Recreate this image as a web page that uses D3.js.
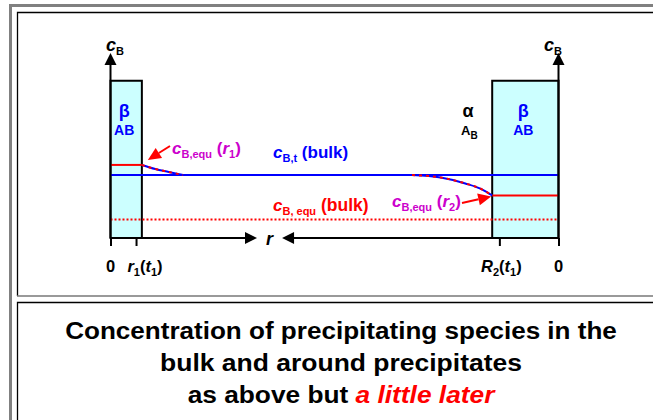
<!DOCTYPE html>
<html>
<head>
<meta charset="utf-8">
<script src="https://cdn.jsdelivr.net/npm/d3@7"></script>
<style>
  body { margin: 0; background: #fff; }
  svg { display: block; font-family: "Liberation Sans", Arial, sans-serif; font-weight: bold; }
</style>
</head>
<body>
<svg id="chart" width="653" height="420"></svg>
<script>
// schematic units: r goes 0..100 across the frame, c goes 0..10 up the axis
const rDomain = [0, 100];
const cDomain = [0, 10];

const precipitates = [
  { name: 'left', r0: 0, r1: 7.0, cTop: 8.5 },
  { name: 'right', r0: 85.2, r1: 100, cTop: 8.5 }
];

const cBulk = 3.4;      // c_B,t (bulk)
const cEquBulk = 1.0;   // c_B,equ (bulk)
const cEquR1 = 3.95;    // c_B,equ (r1)
const cEquR2 = 2.3;     // c_B,equ (r2)

const profileLeft = [[7.0, 3.95], [10, 3.73], [13, 3.57], [16.2, 3.4]];
const profileRight = [[67.3, 3.4], [73.7, 3.27], [79.2, 2.95], [83, 2.62], [85.2, 2.3]];

const tickValues = [0, 5.7, 86.8, 100];
const rArrowTips = [32.7, 38.3];

const titleLines = [
  [{ t: 'Concentration of precipitating species in the' }],
  [{ t: 'bulk and around precipitates' }],
  [{ t: 'as above but ' }, { t: 'a little later', color: '#ff0000', italic: true }]
];
const titleWidths = [552, 362, 307];

const svg = d3.select('#chart');

const x = d3.scaleLinear().domain(rDomain).range([110.5, 558.5]);
const y = d3.scaleLinear().domain(cDomain).range([238, 53]);

// frames
svg.append('rect').attr('x', 9).attr('y', 4).attr('width', 660).attr('height', 3).attr('fill', '#808080');
svg.append('rect').attr('x', 9).attr('y', 4).attr('width', 3).attr('height', 420).attr('fill', '#808080');
svg.append('path').attr('d', 'M660,12.5H17.5V296').attr('fill', 'none').attr('stroke', '#000').attr('stroke-width', 1.3);
svg.append('line').attr('x1', 17).attr('x2', 660).attr('y1', 296).attr('y2', 296).attr('stroke', '#777').attr('stroke-width', 1.3);
svg.append('path').attr('d', 'M660,302.5H17.5V420').attr('fill', 'none').attr('stroke', '#000').attr('stroke-width', 1.3);

const g = svg.append('g');

// precipitate boxes
g.selectAll('rect.box')
  .data(precipitates)
  .enter().append('rect')
  .attr('class', 'box')
  .attr('x', d => x(d.r0))
  .attr('y', d => y(d.cTop))
  .attr('width', d => x(d.r1) - x(d.r0))
  .attr('height', d => y(0) - y(d.cTop))
  .attr('fill', '#ccffff')
  .attr('stroke', '#000')
  .attr('stroke-width', 2);

// equilibrium concentration inside each box
g.append('line')
  .attr('x1', x(0)).attr('x2', x(precipitates[0].r1))
  .attr('y1', y(cEquR1)).attr('y2', y(cEquR1))
  .attr('stroke', '#ff0000').attr('stroke-width', 2);
g.append('line')
  .attr('x1', x(precipitates[1].r0)).attr('x2', x(100))
  .attr('y1', y(cEquR2)).attr('y2', y(cEquR2))
  .attr('stroke', '#ff0000').attr('stroke-width', 2);

// bulk levels
g.append('line')
  .attr('x1', x(0)).attr('x2', x(100))
  .attr('y1', y(cBulk)).attr('y2', y(cBulk))
  .attr('stroke', '#0000ff').attr('stroke-width', 2);
g.append('line')
  .attr('x1', x(0)).attr('x2', x(100))
  .attr('y1', y(cEquBulk)).attr('y2', y(cEquBulk))
  .attr('stroke', '#ff0000').attr('stroke-width', 2)
  .attr('stroke-dasharray', '2,2');

// concentration profiles near the interfaces
const line = d3.line().x(d => x(d[0])).y(d => y(d[1])).curve(d3.curveMonotoneX);
[profileLeft, profileRight].forEach(p => {
  g.append('path').attr('d', line(p)).attr('fill', 'none')
    .attr('stroke', '#0000ff').attr('stroke-width', 2);
  g.append('path').attr('d', line(p)).attr('fill', 'none')
    .attr('stroke', '#ff0000').attr('stroke-width', 2).attr('stroke-dasharray', '3,4');
});

// vertical axes with arrows
[0, 100].forEach(r => {
  g.append('line').attr('x1', x(r)).attr('x2', x(r)).attr('y1', y(0)).attr('y2', y(9.4))
    .attr('stroke', '#000').attr('stroke-width', 2);
  g.append('path')
    .attr('d', `M${x(r)},${y(10)}L${x(r) - 6},${y(9.35)}L${x(r) + 6},${y(9.35)}Z`)
    .attr('fill', '#000');
});

// r axis: two segments with inward arrows
g.append('line').attr('x1', x(0)).attr('x2', x(rArrowTips[0]) - 8).attr('y1', y(0)).attr('y2', y(0))
  .attr('stroke', '#000').attr('stroke-width', 2);
g.append('line').attr('x1', x(rArrowTips[1]) + 8).attr('x2', x(100)).attr('y1', y(0)).attr('y2', y(0))
  .attr('stroke', '#000').attr('stroke-width', 2);
g.append('path')
  .attr('d', `M${x(rArrowTips[0])},${y(0)}L${x(rArrowTips[0]) - 12},${y(0) - 6}L${x(rArrowTips[0]) - 12},${y(0) + 6}Z`)
  .attr('fill', '#000');
g.append('path')
  .attr('d', `M${x(rArrowTips[1])},${y(0)}L${x(rArrowTips[1]) + 12},${y(0) - 6}L${x(rArrowTips[1]) + 12},${y(0) + 6}Z`)
  .attr('fill', '#000');

const axis = g.append('g')
  .attr('transform', 'translate(0,' + y(0) + ')')
  .call(d3.axisBottom(x).tickValues(tickValues).tickSize(8).tickFormat(''));
axis.select('.domain').remove();
axis.selectAll('line').attr('stroke', '#000').attr('stroke-width', 2);

// rich text helper: segments with optional sub, italic, size, color
function rich(px, py, segs, opts) {
  opts = opts || {};
  const t = g.append('text').attr('x', px).attr('y', py)
    .attr('font-size', opts.size || 15)
    .attr('fill', opts.color || '#000')
    .attr('text-anchor', opts.anchor || 'start');
  let shifted = 0;
  segs.forEach(s => {
    const ts = t.append('tspan').text(s.t);
    const want = s.sub ? 4 : 0;
    if (want !== shifted) { ts.attr('dy', want - shifted); shifted = want; }
    if (s.sub) ts.attr('font-size', s.size || (opts.size || 15) * 0.68);
    else if (s.size) ts.attr('font-size', s.size);
    if (s.italic) ts.attr('font-style', 'italic');
    if (s.color) ts.attr('fill', s.color);
  });
  return t;
}

// axis titles
rich(106, 51, [{ t: 'c', italic: true }, { t: 'B', sub: true, size: 11 }], { size: 18 });
rich(544, 51, [{ t: 'c', italic: true }, { t: 'B', sub: true, size: 11 }], { size: 18 });
rich(x(35.5), 245, [{ t: 'r', italic: true }], { size: 18, anchor: 'middle' });

// tick labels
rich(x(0), 272, [{ t: '0' }], { size: 16.5, anchor: 'middle' });
rich(x(100), 272, [{ t: '0' }], { size: 16.5, anchor: 'middle' });
rich(x(5.7) + 9, 272, [{ t: 'r', italic: true }, { t: '1', sub: true, size: 11 }, { t: '(' }, { t: 't', italic: true }, { t: '1', sub: true, size: 11 }, { t: ')' }], { size: 16.5, anchor: 'middle' });
rich(x(86.8) + 2, 272, [{ t: 'R', italic: true }, { t: '2', sub: true, size: 11 }, { t: '(' }, { t: 't', italic: true }, { t: '1', sub: true, size: 11 }, { t: ')' }], { size: 16.5, anchor: 'middle' });

// phase labels
const boxMid = d => (x(d.r0) + x(d.r1)) / 2;
precipitates.forEach(d => {
  rich(boxMid(d) - 2, 117, [{ t: 'β' }], { size: 18, color: '#0000ff', anchor: 'middle' });
  rich(boxMid(d) - 2, 135, [{ t: 'AB' }], { size: 14, color: '#0000ff', anchor: 'middle' });
});
rich(468, 117, [{ t: 'α' }], { size: 18, anchor: 'middle' });
rich(461, 135, [{ t: 'A' }, { t: 'B', sub: true, size: 10 }], { size: 13 });

// curve labels
rich(273, 158, [{ t: 'c', italic: true, size: 17 }, { t: 'B,t', sub: true, size: 11 }, { t: ' (bulk)' }], { size: 17, color: '#0000ff' });
rich(273, 211, [{ t: 'c', italic: true, size: 17 }, { t: 'B, equ', sub: true, size: 11 }, { t: ' (bulk)' }], { size: 17.5, color: '#ff0000' });
rich(172, 154, [{ t: 'c', italic: true }, { t: 'B,equ', sub: true, size: 11 }, { t: ' (' }, { t: 'r', italic: true }, { t: '1', sub: true, size: 11 }, { t: ')' }], { size: 17, color: '#cc00cc' });
rich(392, 207, [{ t: 'c', italic: true }, { t: 'B,equ', sub: true, size: 11 }, { t: ' (' }, { t: 'r', italic: true }, { t: '2', sub: true, size: 11 }, { t: ')' }], { size: 17, color: '#cc00cc' });

// red pointer arrows to the interface concentrations
function pointer(x0, y0, x1, y1) {
  const a = Math.atan2(y1 - y0, x1 - x0), L = 13, W = 6;
  const bx = x1 - L * Math.cos(a), by = y1 - L * Math.sin(a);
  g.append('line').attr('x1', x0).attr('y1', y0).attr('x2', bx).attr('y2', by)
    .attr('stroke', '#ff0000').attr('stroke-width', 2);
  g.append('path')
    .attr('d', `M${x1},${y1}L${bx + W * Math.sin(a)},${by - W * Math.cos(a)}L${bx - W * Math.sin(a)},${by + W * Math.cos(a)}Z`)
    .attr('fill', '#ff0000');
}
pointer(170, 146, x(precipitates[0].r1) + 6, y(cEquR1) - 5);
pointer(462, 203, x(precipitates[1].r0) - 1, y(cEquR2) + 1);

// caption, stretched to the widths seen in the picture
titleLines.forEach((segs, i) => {
  const ty = 339 + i * 32;
  const t = rich(0, 0, segs, { size: 24, anchor: 'middle' });
  const w = t.node().getComputedTextLength();
  const k = titleWidths[i] / w;
  t.attr('transform', `translate(341,${ty}) scale(${k},1)`);
});
</script>
</body>
</html>
